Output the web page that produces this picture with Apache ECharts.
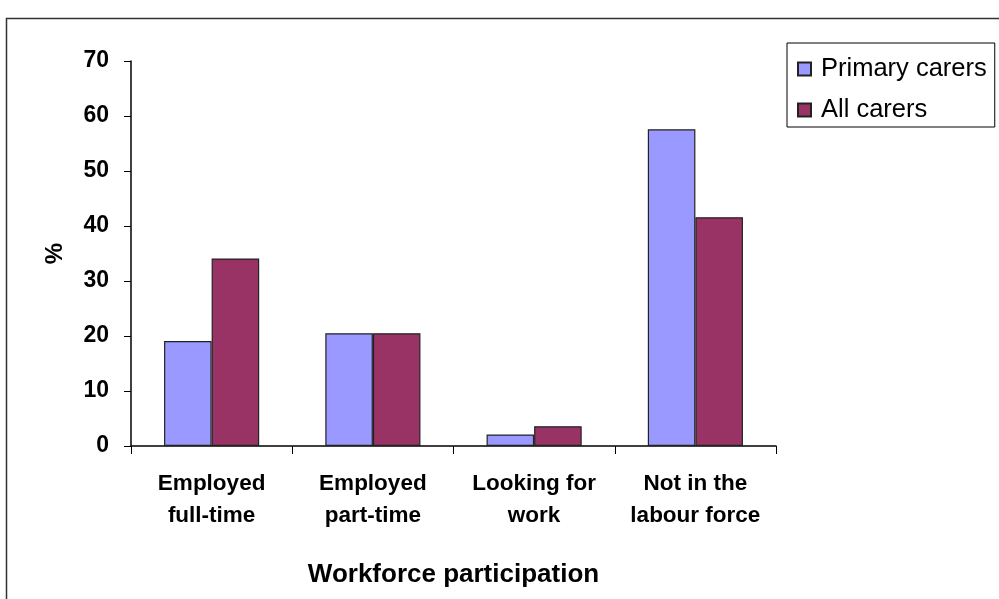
<!DOCTYPE html>
<html>
<head>
<meta charset="utf-8">
<script src="https://cdn.jsdelivr.net/npm/echarts@6/dist/echarts.min.js"></script>
<style>
  html, body { margin: 0; padding: 0; background: #fff; }
  #chart { width: 999px; height: 599px; }
</style>
</head>
<body>
<div id="chart"></div>
<script>
// Workforce participation of carers (%)
const categories = ['Employed\nfull-time', 'Employed\npart-time', 'Looking for\nwork', 'Not in the\nlabour force'];
const primaryCarers = [19.1, 20.5, 2.1, 57.6];
const allCarers = [34.1, 20.5, 3.6, 41.6];
const yTicks = { min: 0, max: 70, interval: 10 };

const FONT = '"Liberation Sans", Arial, sans-serif';

const chart = echarts.init(document.getElementById('chart'), null, { renderer: 'canvas' });

chart.setOption({
  backgroundColor: '#ffffff',
  animation: false,
  textStyle: { fontFamily: FONT, color: '#000' },
  graphic: [{
    type: 'rect',
    left: 4, top: 16,
    shape: { width: 1100, height: 700 },
    style: { fill: 'none', stroke: '#333', lineWidth: 1.5 },
    silent: true,
    z: -1
  }],
  legend: {
    orient: 'vertical',
    left: 787,
    top: 43,
    padding: [13, 8, 4, 10],
    itemWidth: 13,
    itemHeight: 13,
    itemGap: 15,
    borderColor: '#000',
    borderWidth: 1,
    backgroundColor: '#fff',
    icon: 'rect',
    textStyle: { fontFamily: FONT, fontSize: 25.5, color: '#000', lineHeight: 25, padding: [0, 0, 0, 5] },
    data: ['Primary carers', 'All carers']
  },
  grid: { left: 131, right: 223, top: 61, bottom: 153, containLabel: false },
  xAxis: {
    type: 'category',
    data: categories,
    name: 'Workforce participation',
    nameLocation: 'middle',
    nameGap: 116,
    nameTextStyle: { fontFamily: FONT, fontSize: 26, fontWeight: 'bold', color: '#000' },
    axisLine: { show: true, lineStyle: { color: '#000', width: 1.5 } },
    axisTick: { show: true, length: 8, alignWithLabel: false, lineStyle: { color: '#000' } },
    axisLabel: { fontFamily: FONT, fontSize: 22.5, fontWeight: 'bold', color: '#000', margin: 22, lineHeight: 32, interval: 0 },
    splitLine: { show: false }
  },
  yAxis: {
    type: 'value',
    min: yTicks.min,
    max: yTicks.max,
    interval: yTicks.interval,
    name: '%',
    nameLocation: 'middle',
    nameGap: 64,
    nameRotate: 90,
    nameTextStyle: { fontFamily: FONT, fontSize: 24, fontWeight: 'bold', color: '#000' },
    axisLine: { show: true, lineStyle: { color: '#000', width: 1.5 } },
    axisTick: { show: true, length: 7, lineStyle: { color: '#000' } },
    axisLabel: { fontFamily: FONT, fontSize: 23, fontWeight: 'bold', color: '#000', margin: 22 },
    splitLine: { show: false }
  },
  series: [
    {
      name: 'Primary carers',
      type: 'bar',
      data: primaryCarers,
      barGap: '0%',
      barCategoryGap: '41%',
      itemStyle: { color: '#9999FF', borderColor: '#222', borderWidth: 1.2 }
    },
    {
      name: 'All carers',
      type: 'bar',
      data: allCarers,
      barGap: '0%',
      barCategoryGap: '41%',
      itemStyle: { color: '#993366', borderColor: '#222', borderWidth: 1.2 }
    }
  ]
});
</script>
</body>
</html>
